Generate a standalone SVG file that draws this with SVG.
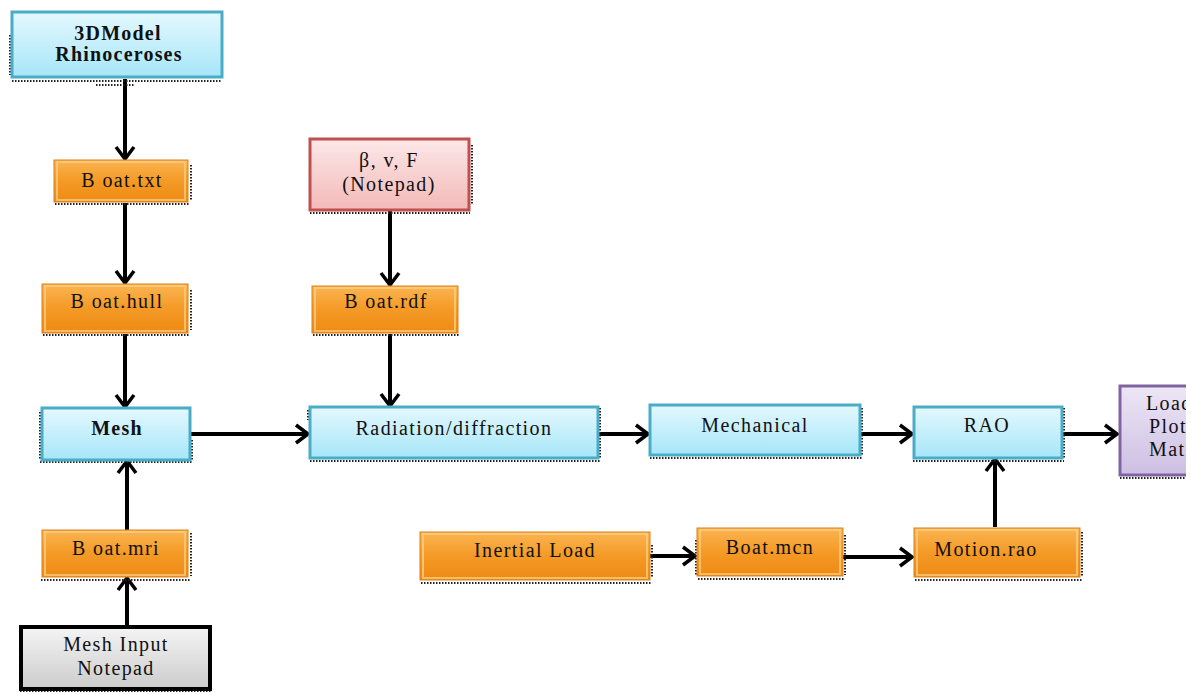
<svg xmlns="http://www.w3.org/2000/svg" width="1191" height="693" viewBox="0 0 1191 693">
<defs>
<linearGradient id="gBlue" x1="0" y1="0" x2="0" y2="1"><stop offset="0" stop-color="#E4F8FE"/><stop offset="1" stop-color="#A6E6F9"/></linearGradient>
<linearGradient id="gOrange" x1="0" y1="0" x2="0" y2="1"><stop offset="0" stop-color="#FBB552"/><stop offset="0.5" stop-color="#F49A26"/><stop offset="1" stop-color="#EE8A14"/></linearGradient>
<linearGradient id="gRed" x1="0" y1="0" x2="0" y2="1"><stop offset="0" stop-color="#FCE8E8"/><stop offset="1" stop-color="#F3B9B8"/></linearGradient>
<linearGradient id="gPurple" x1="0" y1="0" x2="0" y2="1"><stop offset="0" stop-color="#EDE6F5"/><stop offset="1" stop-color="#CDBFE3"/></linearGradient>
<linearGradient id="gGray" x1="0" y1="0" x2="0" y2="1"><stop offset="0" stop-color="#F4F4F4"/><stop offset="1" stop-color="#CCCCCC"/></linearGradient>
<marker id="arr" viewBox="0 0 16 22" refX="14" refY="11" markerWidth="16" markerHeight="22" markerUnits="userSpaceOnUse" orient="auto">
<path d="M2,2 L14,11 L2,20" fill="none" stroke="#000" stroke-width="3.5" stroke-linejoin="miter"/>
</marker>
<clipPath id="clipR"><rect x="0" y="0" width="1186" height="693"/></clipPath>
</defs>
<style>
.blue{fill:url(#gBlue);stroke:#4BACC6;stroke-width:3}
.orange{fill:url(#gOrange);stroke:#D9821A;stroke-width:1}
.bevel{fill:none;stroke:#FDD08A;stroke-width:2;opacity:0.7}
.red{fill:url(#gRed);stroke:#C0504D;stroke-width:3}
.purple{fill:url(#gPurple);stroke:#8064A2;stroke-width:3}
.gray{fill:url(#gGray);stroke:#000;stroke-width:4}
.dots{fill:none;stroke:#222;stroke-width:2;stroke-dasharray:1.5 1.5}
.t{font-family:"Liberation Serif","Times New Roman",serif;font-size:20px;letter-spacing:1.4px;fill:#111;text-anchor:middle}
.b{font-weight:bold;letter-spacing:1.2px}
.conn{stroke:#000;stroke-width:4;fill:none;marker-end:url(#arr)}
</style>
<rect width="1191" height="693" fill="#fff"/>

<g id="connectors">
<line class="conn" x1="125" y1="79" x2="125" y2="159"/>
<line class="conn" x1="125" y1="203" x2="125" y2="283"/>
<line class="conn" x1="125" y1="334" x2="125" y2="407"/>
<line class="conn" x1="127" y1="530" x2="127" y2="461"/>
<line class="conn" x1="127" y1="626" x2="127" y2="578"/>
<line class="conn" x1="390" y1="211" x2="390" y2="285"/>
<line class="conn" x1="390" y1="334" x2="390" y2="406"/>
<line class="conn" x1="191" y1="434" x2="308" y2="434"/>
<line class="conn" x1="599" y1="434" x2="648" y2="434"/>
<line class="conn" x1="861" y1="434" x2="912" y2="434"/>
<line class="conn" x1="1063" y1="434" x2="1117" y2="434"/>
<line class="conn" x1="650" y1="556" x2="695" y2="556"/>
<line class="conn" x1="843" y1="557" x2="912" y2="557"/>
<line class="conn" x1="995" y1="527" x2="995" y2="459"/>
</g>

<g id="node-3dmodel">
<path class="dots" d="M10,35 V75 M12,81 H222 M96,85 H134"/>
<rect class="blue" x="12" y="12" width="210" height="65"/>
<text class="t b" x="118" y="40">3DModel</text>
<text class="t b" x="119" y="61">Rhinoceroses</text>
</g>

<g id="node-boat-txt">
<path class="dots" d="M55,204 H190 M191,165 V200"/>
<rect class="orange" x="54" y="160" width="134" height="42"/>
<rect class="bevel" x="57" y="162" width="128" height="38"/>
<text class="t" x="122" y="187">B oat.txt</text>
</g>

<g id="node-boat-hull">
<path class="dots" d="M43,335 H190 M191,290 V330"/>
<rect class="orange" x="42" y="284" width="146" height="49"/>
<rect class="bevel" x="45" y="286" width="140" height="45"/>
<text class="t" x="117" y="308">B oat.hull</text>
</g>

<g id="node-mesh">
<path class="dots" d="M40,462 H192 M192,440 V460 M40,412 V460"/>
<rect class="blue" x="42" y="408" width="148" height="52"/>
<text class="t b" x="117" y="435">Mesh</text>
</g>

<g id="node-boat-mri">
<path class="dots" d="M41,580 H190 M191,533 V576"/>
<rect class="orange" x="42" y="530" width="146" height="47"/>
<rect class="bevel" x="45" y="532" width="140" height="43"/>
<text class="t" x="116" y="555">B oat.mri</text>
</g>

<g id="node-mesh-input">
<path class="dots" d="M20,691 H212"/>
<rect class="gray" x="21" y="627" width="189" height="62"/>
<text class="t" x="116" y="651">Mesh Input</text>
<text class="t" x="116" y="675">Notepad</text>
</g>

<g id="node-params">
<path class="dots" d="M310,213 H470 M472,145 V205"/>
<rect class="red" x="310" y="139" width="159" height="71"/>
<text class="t" x="389" y="167">β, v, F</text>
<text class="t" x="389" y="191">(Notepad)</text>
</g>

<g id="node-boat-rdf">
<path class="dots" d="M313,335 H460"/>
<rect class="orange" x="312" y="286" width="146" height="47"/>
<rect class="bevel" x="315" y="288" width="140" height="43"/>
<text class="t" x="386" y="308">B oat.rdf</text>
</g>

<g id="node-radiation">
<path class="dots" d="M310,461 H600 M600,408 V458 M308,410 V420"/>
<rect class="blue" x="310" y="407" width="288" height="51"/>
<text class="t" x="454" y="435">Radiation/diffraction</text>
</g>

<g id="node-mechanical">
<path class="dots" d="M650,458 H862 M862,408 V455"/>
<rect class="blue" x="650" y="405" width="210" height="50"/>
<text class="t" x="755" y="432">Mechanical</text>
</g>

<g id="node-rao">
<path class="dots" d="M913,461 H1064 M1064,408 V458"/>
<rect class="blue" x="914" y="407" width="148" height="51"/>
<text class="t" x="987" y="432">RAO</text>
</g>

<g id="node-load" clip-path="url(#clipR)">
<path class="dots" d="M1120,478 H1191"/>
<rect class="purple" x="1120" y="386" width="90" height="89"/>
<text class="t" x="1146" y="410" style="text-anchor:start">Load</text>
<text class="t" x="1149" y="433" style="text-anchor:start">Plot</text>
<text class="t" x="1149" y="456" style="text-anchor:start">Mat</text>
</g>

<g id="node-inertial">
<path class="dots" d="M421,583 H652 M652,545 V578"/>
<rect class="orange" x="420" y="532" width="230" height="48"/>
<rect class="bevel" x="423" y="534" width="224" height="44"/>
<text class="t" x="535" y="557">Inertial Load</text>
</g>

<g id="node-boat-mcn">
<path class="dots" d="M698,579 H845 M845,535 V575 M696,540 V575"/>
<rect class="orange" x="697" y="528" width="146" height="48"/>
<rect class="bevel" x="700" y="530" width="140" height="44"/>
<text class="t" x="770" y="554">Boat.mcn</text>
</g>

<g id="node-motion-rao">
<path class="dots" d="M915,580 H1082 M1082,532 V576"/>
<rect class="orange" x="914" y="528" width="166" height="49"/>
<rect class="bevel" x="917" y="530" width="160" height="45"/>
<text class="t" x="986" y="556">Motion.rao</text>
</g>
</svg>
